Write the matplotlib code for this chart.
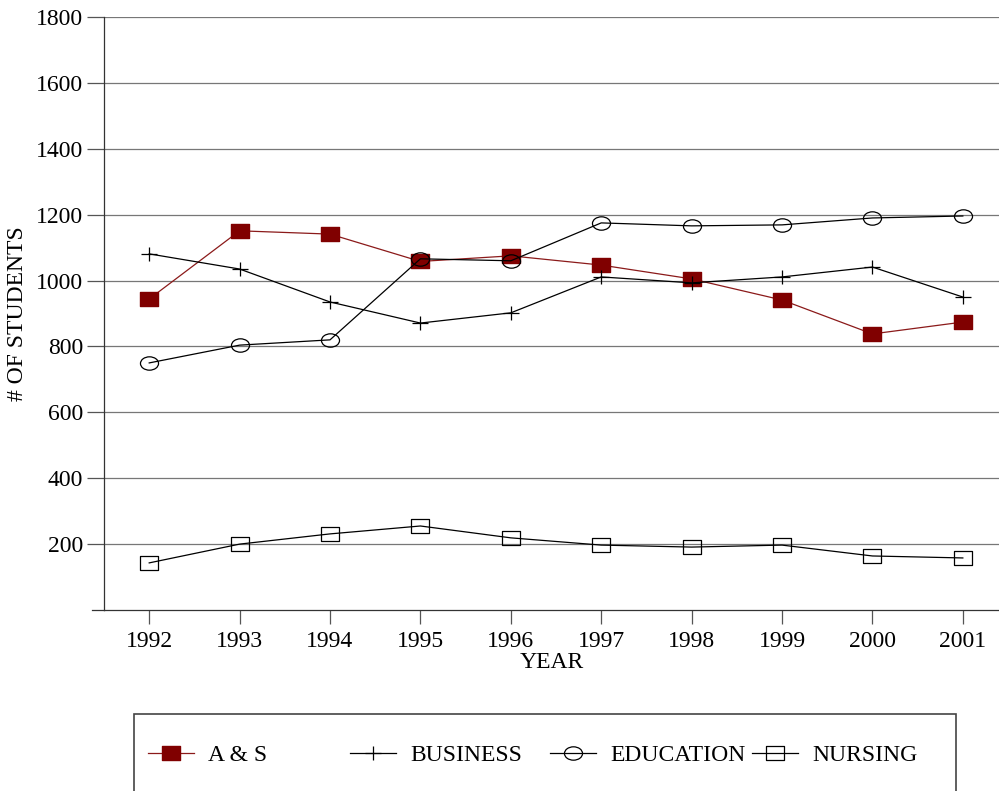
import matplotlib
matplotlib.use("Agg")
import matplotlib.pyplot as plt
from matplotlib.path import Path
from matplotlib.patches import Rectangle
from matplotlib.lines import Line2D
from matplotlib.transforms import Affine2D

plt.rcParams['font.family'] = ['Liberation Serif', 'DejaVu Serif']

years = [1992, 1993, 1994, 1995, 1996, 1997, 1998, 1999, 2000, 2001]
a_s = [944, 1151, 1141, 1058, 1075, 1047, 1005, 941, 838, 874]
business = [1081, 1035, 935, 871, 902, 1011, 993, 1011, 1041, 950]
education = [750, 804, 820, 1066, 1060, 1175, 1166, 1169, 1190, 1196]
nursing = [143, 200, 231, 255, 219, 197, 191, 197, 164, 158]
labels = ["A & S", "BUSINESS", "EDUCATION", "NURSING"]
yticks = [200, 400, 600, 800, 1000, 1200, 1400, 1600, 1800]

# markers are a bit wider than tall in the original
squeeze = Affine2D().scale(1.0, 0.74)
sq = Path([(-1, -1), (1, -1), (1, 1), (-1, 1), (-1, -1)],
          [Path.MOVETO, Path.LINETO, Path.LINETO, Path.LINETO, Path.CLOSEPOLY])
sq = squeeze.transform_path(sq)
circ = squeeze.transform_path(Path.unit_circle())
plus = Path([(-1, 0), (1, 0), (0, -1), (0, 1)],
            [Path.MOVETO, Path.LINETO, Path.MOVETO, Path.LINETO])
plus = Affine2D().scale(1.0, 0.8).transform_path(plus)

fs = 17

fig = plt.figure(figsize=(9.99, 7.91), dpi=100)
ax = fig.add_axes([104/999, 1 - 610/791, 1 - 104/999, (610 - 17)/791])

red = '#800000'
styles = [
    dict(color='#8b1a1a', lw=0.9, marker=sq, ms=13, mfc=red, mec=red),
    dict(color='black', lw=0.9, marker=plus, ms=12, mfc='none', mec='black', mew=0.9),
    dict(color='black', lw=0.9, marker=circ, ms=13, mfc='none', mec='black', mew=0.9),
    dict(color='black', lw=0.9, marker=sq, ms=13, mfc='none', mec='black', mew=0.9),
]
series = [a_s, business, education, nursing]

for vals, st in zip(series, styles):
    ax.plot(years, vals, **st, zorder=3)

ax.set_xlim(1991.5, 2001.4)
ax.set_ylim(0, 1800)
ax.set_yticks(yticks)
ax.set_xticks(years)
ax.grid(axis='y', color='#777777', lw=0.9)
ax.tick_params(axis='y', length=12, width=0.9, color='#555555', labelsize=fs, pad=3)
ax.tick_params(axis='x', length=10, width=0.9, color='#555555', labelsize=fs, pad=5)
for s in ['top', 'right']:
    ax.spines[s].set_visible(False)
ax.spines['left'].set_color('#333333')
ax.spines['bottom'].set_color('#333333')
ax.spines['left'].set_linewidth(0.9)
ax.spines['bottom'].set_linewidth(0.9)
ax.set_xlabel("YEAR", fontsize=fs, labelpad=0)
ax.set_ylabel("# OF STUDENTS", fontsize=fs, labelpad=6)

# bottom line runs a bit left of the y axis
fig.add_artist(Line2D([92/999, 104/999], [1 - 610/791, 1 - 610/791],
                      transform=fig.transFigure, color='#333333', lw=0.9))

# legend box
fig.add_artist(Rectangle((134/999, -0.05), (956 - 134)/999, (0.05 + 1 - 714/791),
                         transform=fig.transFigure, fill=False, ec='#444444', lw=1.2))
xs = [148, 350, 550, 752]
for x, lab, st in zip(xs, labels, styles):
    h = Line2D([], [], **st)
    fig.legend([h], [lab], loc='center left', bbox_to_anchor=(x/999, 1 - 755/791),
               frameon=False, fontsize=fs, handlelength=1.95, handletextpad=0.6,
               borderaxespad=0, borderpad=0)

fig.savefig("out.png", dpi=100)
